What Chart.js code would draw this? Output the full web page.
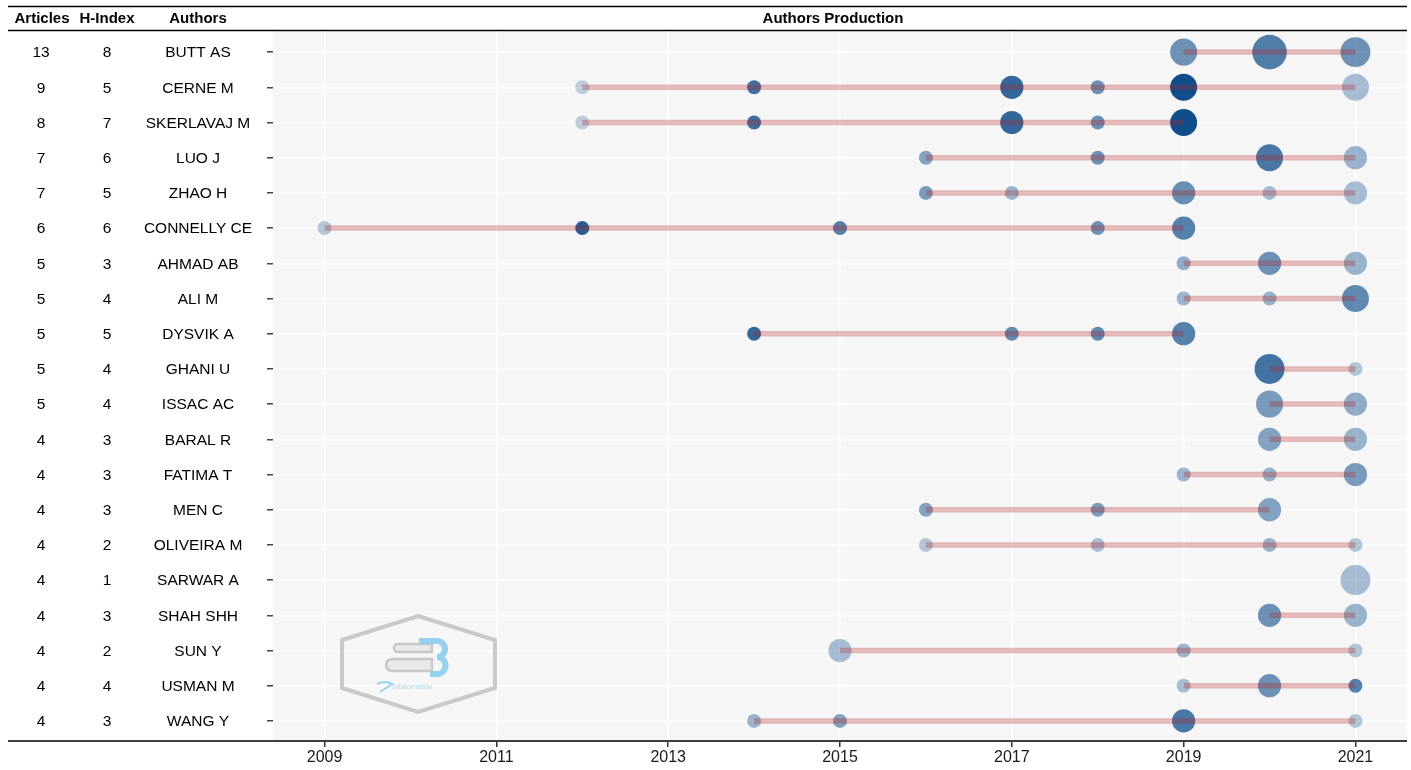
<!DOCTYPE html>
<html>
<head>
<meta charset="utf-8">
<script src="https://cdn.jsdelivr.net/npm/chart.js@4.4.1/dist/chart.umd.min.js"></script>
<style>
  html, body { margin: 0; padding: 0; background: #ffffff; }
  #wrap { width: 1411px; height: 770px; }
</style>
</head>
<body>
<div id="wrap"><canvas id="prod" width="1411" height="770"></canvas></div>
<script>
// Top authors, with their total articles and h-index
const authors = ["BUTT AS", "CERNE M", "SKERLAVAJ M", "LUO J", "ZHAO H", "CONNELLY CE",
  "AHMAD AB", "ALI M", "DYSVIK A", "GHANI U", "ISSAC AC", "BARAL R", "FATIMA T", "MEN C",
  "OLIVEIRA M", "SARWAR A", "SHAH SHH", "SUN Y", "USMAN M", "WANG Y"];
const articles = [13, 9, 8, 7, 7, 6, 5, 5, 5, 5, 5, 4, 4, 4, 4, 4, 4, 4, 4, 4];
const hIndex = [8, 5, 7, 6, 5, 6, 3, 4, 5, 4, 4, 3, 3, 3, 2, 1, 3, 2, 4, 3];

// Publication years per author
const pubYears = [
  [2019, 2020, 2021],
  [2012, 2014, 2017, 2018, 2019, 2021],
  [2012, 2014, 2017, 2018, 2019],
  [2016, 2018, 2020, 2021],
  [2016, 2017, 2019, 2020, 2021],
  [2009, 2012, 2015, 2018, 2019],
  [2019, 2020, 2021],
  [2019, 2020, 2021],
  [2014, 2017, 2018, 2019],
  [2020, 2021],
  [2020, 2021],
  [2020, 2021],
  [2019, 2020, 2021],
  [2016, 2018, 2020],
  [2016, 2018, 2020, 2021],
  [2021],
  [2020, 2021],
  [2015, 2019, 2021],
  [2019, 2020, 2021],
  [2014, 2015, 2019, 2021]
];
// Number of articles in each of those years
const pubCounts = [
  [3, 6, 4],
  [1, 1, 2, 1, 3, 3],
  [1, 1, 2, 1, 3],
  [1, 1, 3, 2],
  [1, 1, 2, 1, 2],
  [1, 1, 1, 1, 2],
  [1, 2, 2],
  [1, 1, 3],
  [1, 1, 1, 2],
  [4, 1],
  [3, 2],
  [2, 2],
  [1, 1, 2],
  [1, 1, 2],
  [1, 1, 1, 1],
  [4],
  [2, 2],
  [2, 1, 1],
  [1, 2, 1],
  [1, 1, 2, 1]
];
// Citations-per-year level (0..1) of each year's output
const citeLevel = [
  [0.60, 0.72, 0.60],
  [0.25, 0.80, 0.85, 0.60, 1.00, 0.35],
  [0.25, 0.80, 0.85, 0.60, 1.00],
  [0.50, 0.60, 0.75, 0.40],
  [0.55, 0.40, 0.62, 0.35, 0.35],
  [0.30, 0.90, 0.70, 0.60, 0.70],
  [0.45, 0.60, 0.40],
  [0.40, 0.40, 0.65],
  [0.85, 0.65, 0.65, 0.70],
  [0.78, 0.30],
  [0.55, 0.45],
  [0.50, 0.40],
  [0.40, 0.40, 0.55],
  [0.50, 0.55, 0.50],
  [0.30, 0.35, 0.40, 0.30],
  [0.35],
  [0.60, 0.40],
  [0.35, 0.40, 0.30],
  [0.35, 0.60, 0.70],
  [0.40, 0.50, 0.75, 0.30]
];
const yearTicks = [2009, 2011, 2013, 2015, 2017, 2019, 2021];

const FONT = "'Liberation Sans', Arial, Helvetica, sans-serif";
const maxCount = Math.max(...pubCounts.flat());
// area-style size scale: radius grows with sqrt of count
function radiusFor(n) {
  const rMin = 7, rMax = 17.3;
  return rMin + (rMax - rMin) * Math.sqrt((n - 1) / (maxCount - 1));
}

const bubbleData = [];
const bubbleColors = [];
authors.forEach((a, i) => {
  pubYears[i].forEach((yr, k) => {
    bubbleData.push({ x: yr, y: i, r: radiusFor(pubCounts[i][k]) });
    bubbleColors.push(`rgba(16,78,139,${citeLevel[i][k]})`);
  });
});

const lineSets = authors.map((a, i) => ({
  type: 'line',
  label: a,
  data: pubYears[i].map(yr => ({ x: yr, y: i })),
  borderColor: 'rgba(178,34,34,0.3)',
  borderWidth: 5.5,
  borderCapStyle: 'butt',
  pointRadius: 0,
  fill: false,
  order: 0
}));

const colX = { articles: 41, h: 107, authors: 198 };

const decor = {
  id: 'decor',
  beforeDraw(chart) {
    const { ctx, chartArea: ca } = chart;
    ctx.save();
    ctx.fillStyle = '#f6f6f6';
    ctx.fillRect(ca.left, ca.top, ca.right - ca.left, ca.bottom - ca.top);
    ctx.restore();
  },
  beforeDatasetsDraw(chart) {
    // bibliometrix watermark badge
    const ctx = chart.ctx;
    ctx.save();
    ctx.strokeStyle = 'rgba(190,190,190,0.8)';
    ctx.lineWidth = 4;
    ctx.beginPath();
    ctx.moveTo(418, 616); ctx.lineTo(495, 640); ctx.lineTo(495, 688);
    ctx.lineTo(418, 712); ctx.lineTo(342, 688); ctx.lineTo(342, 640);
    ctx.closePath();
    ctx.stroke();
    // grey capsules
    function capsule(x1, x2, y, h) {
      ctx.beginPath();
      ctx.moveTo(x1 + h / 2, y - h / 2);
      ctx.lineTo(x2, y - h / 2);
      ctx.lineTo(x2, y + h / 2);
      ctx.lineTo(x1 + h / 2, y + h / 2);
      ctx.arc(x1 + h / 2, y, h / 2, Math.PI / 2, Math.PI * 1.5);
      ctx.closePath();
      ctx.fillStyle = 'rgba(232,232,232,0.9)';
      ctx.fill();
      ctx.strokeStyle = 'rgba(195,195,195,0.9)';
      ctx.lineWidth = 2.5;
      ctx.stroke();
    }
    capsule(394, 432, 648, 8);
    capsule(386, 432, 665, 12);
    // blue letter
    ctx.strokeStyle = 'rgba(140,205,240,0.9)';
    ctx.lineWidth = 6;
    ctx.beginPath();
    ctx.moveTo(419, 641); ctx.lineTo(437, 641);
    ctx.arc(437, 649, 8, -Math.PI / 2, Math.PI / 2);
    ctx.moveTo(437, 657);
    ctx.arc(437, 665.5, 8.5, -Math.PI / 2, Math.PI / 2);
    ctx.lineTo(430, 674);
    ctx.stroke();
    ctx.lineWidth = 2;
    ctx.beginPath();
    ctx.moveTo(377, 684); ctx.quadraticCurveTo(386, 680, 392, 684);
    ctx.quadraticCurveTo(386, 688, 380, 692);
    ctx.stroke();
    ctx.fillStyle = 'rgba(150,210,240,0.85)';
    ctx.font = `8px ${FONT}`;
    ctx.textAlign = 'left';
    ctx.textBaseline = 'middle';
    ctx.fillText('bibliometrix', 392, 687);
    ctx.restore();
  },
  afterDraw(chart) {
    const { ctx, scales } = chart;
    const left = 8, right = 1407;
    ctx.save();
    ctx.strokeStyle = '#000';
    ctx.lineWidth = 1.6;
    ctx.beginPath(); ctx.moveTo(left, 6.5); ctx.lineTo(right, 6.5); ctx.stroke();
    ctx.lineWidth = 1.6;
    ctx.beginPath(); ctx.moveTo(left, 30.5); ctx.lineTo(right, 30.5); ctx.stroke();
    ctx.lineWidth = 1.6;
    ctx.beginPath(); ctx.moveTo(left, 741); ctx.lineTo(right, 741); ctx.stroke();

    ctx.fillStyle = '#000';
    ctx.textAlign = 'center';
    ctx.textBaseline = 'middle';
    ctx.font = `bold 15px ${FONT}`;
    ctx.fillText('Articles', colX.articles + 1, 19);
    ctx.fillText('H-Index', colX.h, 19);
    ctx.fillText('Authors', colX.authors, 19);
    ctx.fillText('Authors Production', 833, 19);

    ctx.font = `15.5px ${FONT}`;
    authors.forEach((a, i) => {
      const y = scales.y.getPixelForValue(i) + 1;
      ctx.fillText(String(articles[i]), colX.articles, y);
      ctx.fillText(String(hIndex[i]), colX.h, y);
      ctx.fillText(a, colX.authors, y);
    });
    ctx.restore();
  }
};

new Chart(document.getElementById('prod'), {
  type: 'bubble',
  data: {
    datasets: [
      ...lineSets,
      {
        type: 'bubble',
        label: 'production',
        data: bubbleData,
        backgroundColor: bubbleColors,
        borderWidth: 0,
        order: 1
      }
    ]
  },
  options: {
    responsive: false,
    devicePixelRatio: 1,
    animation: false,
    events: [],
    layout: { autoPadding: false, padding: { top: 31, right: 4, left: 0, bottom: 0 } },
    plugins: { legend: { display: false }, tooltip: { enabled: false }, title: { display: false } },
    scales: {
      x: {
        type: 'linear',
        min: 2008.4,
        max: 2021.6,
        afterBuildTicks(scale) { scale.ticks = yearTicks.map(v => ({ value: v })); },
        afterFit(scale) {
          scale.height = 28;
          scale.paddingLeft = 0;
          scale.paddingRight = 0;
        },
        border: { display: false },
        grid: { color: '#ffffff', lineWidth: 1.5, tickColor: '#333333', tickLength: 5, drawTicks: true },
        ticks: {
          font: { family: FONT, size: 16 },
          color: '#1a1a1a',
          padding: 1,
          maxRotation: 0,
          callback: v => String(v)
        }
      },
      y: {
        type: 'linear',
        reverse: true,
        min: -0.6,
        max: authors.length - 0.4,
        afterBuildTicks(scale) { scale.ticks = authors.map((a, i) => ({ value: i })); },
        afterFit(scale) {
          scale.width = 273;
          scale.paddingTop = 0;
          scale.paddingBottom = 0;
        },
        border: { display: false },
        grid: { color: '#ffffff', lineWidth: 1.5, tickColor: '#444444', tickLength: 6, drawTicks: true },
        ticks: { callback: () => '', padding: 0 }
      }
    }
  },
  plugins: [decor]
});
</script>
</body>
</html>
